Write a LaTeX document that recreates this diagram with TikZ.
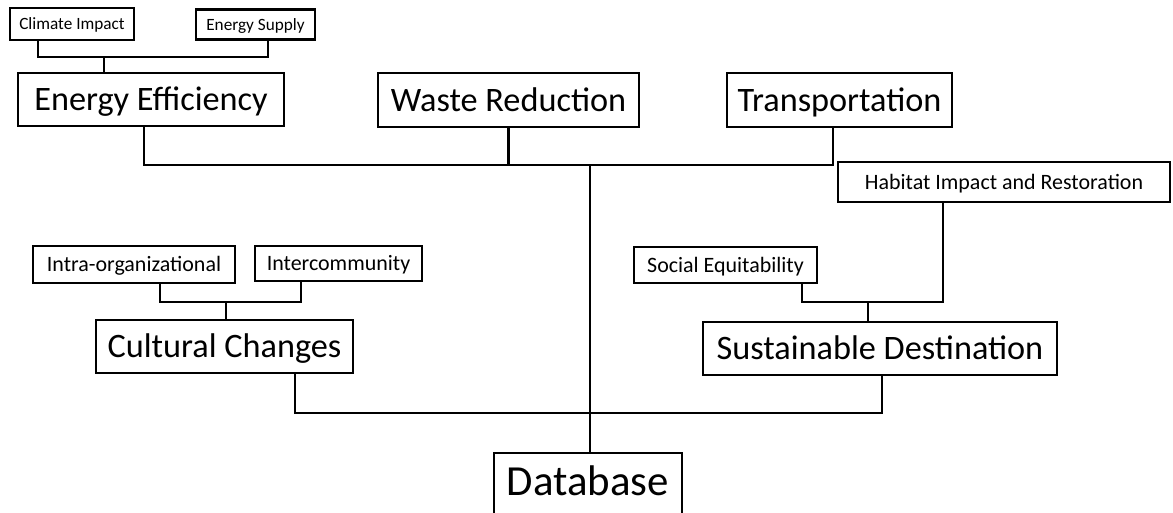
\documentclass[tikz,border=0pt]{standalone}
\usepackage{fontspec}
\setmainfont{Carlito}

\begin{document}
\begin{tikzpicture}[
    x=0.02cm, y=-0.02cm,
    box/.style={rectangle, draw, line width=1.4pt, inner sep=0pt, text centered, text depth=0pt},
    leaf/.style={box, font=\fontsize{9.8}{11}\selectfont, text height=6.4pt},
    sub/.style={box, font=\fontsize{12.5}{14}\selectfont, text height=8.2pt},
    topic/.style={box, font=\fontsize{19.5}{22}\selectfont, text height=12.8pt},
    root/.style={box, font=\fontsize{24.4}{28}\selectfont, text height=18.3pt, text depth=10pt, inner ysep=6pt},
    link/.style={line width=1.4pt}
]

\useasboundingbox (0,0) rectangle (1173,512);
\clip (0,0) rectangle (1173,512);

% Main topics
\node[topic, minimum width=5.32cm, minimum height=1.06cm] (energy) at (151,99.5) {Energy Efficiency};
\node[topic, minimum width=5.22cm, minimum height=1.08cm] (waste) at (508.5,100) {Waste Reduction};
\node[topic, minimum width=4.50cm, minimum height=1.08cm] (transport) at (839.5,100) {Transportation};
\node[topic, minimum width=5.14cm, minimum height=1.06cm] (cultural) at (224.5,346.5) {Cultural Changes};
\node[topic, minimum width=7.08cm, minimum height=1.06cm] (sustain) at (880,348.5) {Sustainable Destination};
\node[root, minimum width=3.76cm, anchor=north] (database) at (588,452) {Database};

% Sub topics
\node[leaf, minimum width=2.48cm, minimum height=0.64cm] (climate) at (72,24) {Climate Impact};
\node[leaf, minimum width=2.38cm, minimum height=0.60cm] (supply) at (255.5,24.5) {Energy Supply};
\node[sub, minimum width=4.04cm, minimum height=0.74cm] (intra) at (134,264.5) {Intra-organizational};
\node[sub, minimum width=3.34cm, minimum height=0.70cm] (intercom) at (338.5,263.5) {Intercommunity};
\node[sub, minimum width=3.66cm, minimum height=0.72cm] (social) at (725.5,265) {Social Equitability};
\node[sub, minimum width=6.64cm, minimum height=0.80cm] (habitat) at (1004,182) {Habitat Impact and Restoration};

% Bus corners
\coordinate (ee-l) at (38,57);
\coordinate (ee-m) at (104,57);
\coordinate (ee-r) at (268,57);
\coordinate (cc-l) at (160,302);
\coordinate (cc-m) at (226,302);
\coordinate (cc-r) at (301,302);
\coordinate (sd-l) at (802,302);
\coordinate (sd-m) at (868,302);
\coordinate (sd-r) at (943,302);
\coordinate (top-l) at (144,165);
\coordinate (top-m) at (590,165);
\coordinate (top-r) at (833,165);
\coordinate (bot-l) at (295,413);
\coordinate (bot-r) at (882,413);

% Connectors
\draw[link] (climate.south -| ee-l) -- (ee-l) -- (ee-r) -- (supply.south -| ee-r);
\draw[link] (ee-m) -- (energy.north -| ee-m);

\draw[link] (intra.south -| cc-l) -- (cc-l) -- (cc-r) -- (intercom.south -| cc-r);
\draw[link] (cc-m) -- (cultural.north -| cc-m);

\draw[link] (social.south -| sd-l) -- (sd-l) -- (sd-r) -- (habitat.south -| sd-r);
\draw[link] (sd-m) -- (sustain.north -| sd-m);

\draw[link] (energy.south -| top-l) -- (top-l) -- (top-r) -- (transport.south -| top-r);
\draw[link] (waste.south) -- (waste.south |- top-l);
\draw[link] (cultural.south -| bot-l) -- (bot-l) -- (bot-r) -- (sustain.south -| bot-r);
\draw[link] (top-m) -- (database.north -| top-m);

\end{tikzpicture}
\end{document}
